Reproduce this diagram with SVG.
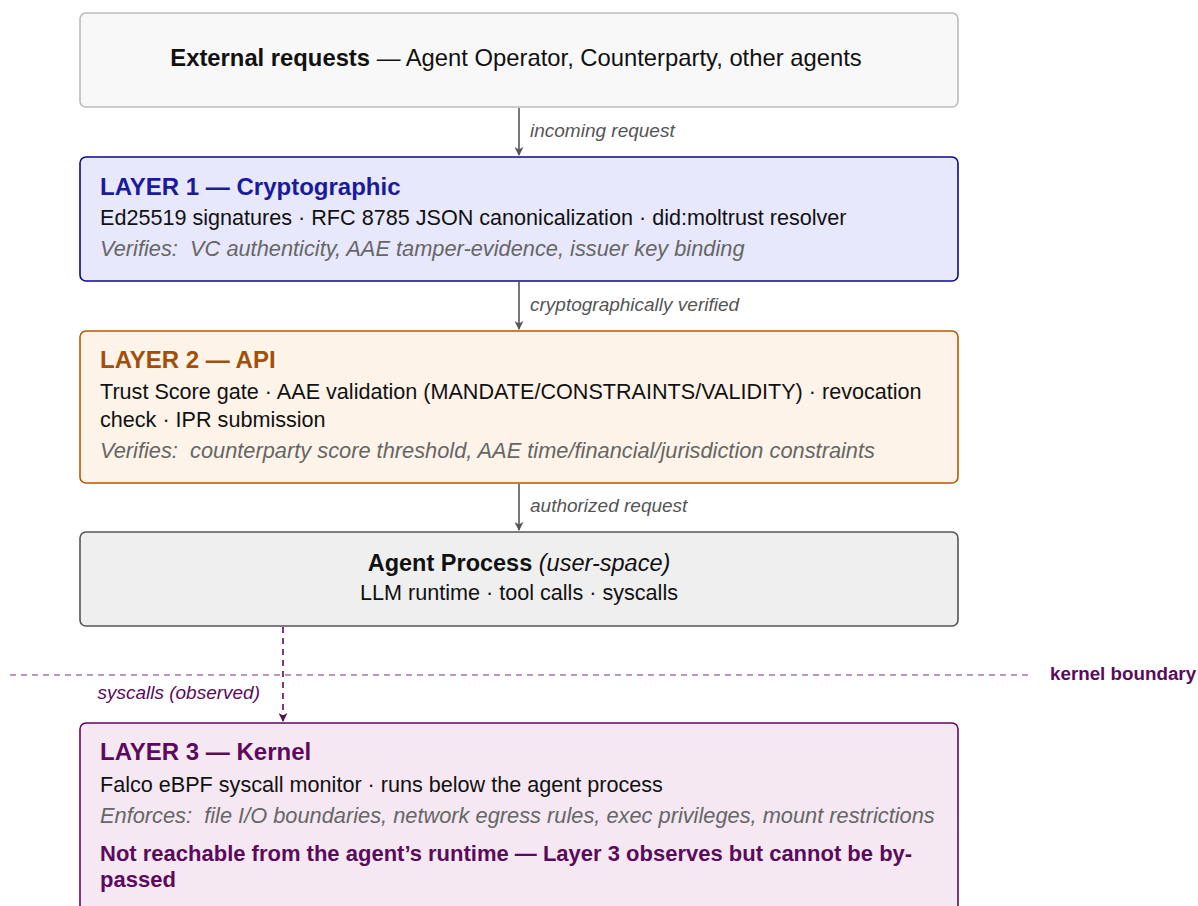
<svg xmlns="http://www.w3.org/2000/svg" width="1198" height="906" viewBox="0 0 1198 906">
<defs>
<style>
text{font-family:"Liberation Sans",Arial,sans-serif;}
.t{font-size:24px;font-weight:bold;}
.b{font-size:21.6px;fill:#111;}
.i{font-size:21.8px;font-style:italic;fill:#666;white-space:pre;}
.lbl{font-size:19px;font-style:italic;fill:#555;}
.box{stroke-width:1.6;}
</style>
<marker id="ah" viewBox="0 0 10 10" refX="9" refY="5" markerWidth="9" markerHeight="9" orient="auto" markerUnits="userSpaceOnUse"><path d="M0,0 L10,5 L0,10 L3,5 z" fill="#555"/></marker>
<marker id="ahp" viewBox="0 0 10 10" refX="9" refY="5" markerWidth="9" markerHeight="9" orient="auto" markerUnits="userSpaceOnUse"><path d="M0,0 L10,5 L0,10 L3,5 z" fill="#5c0a5c"/></marker>
</defs>
<rect width="1198" height="906" fill="#fff"/>
<g id="connectors">
<line x1="519" y1="108" x2="519" y2="155" stroke="#555" stroke-width="1.6" marker-end="url(#ah)"/>
<text class="lbl" x="530" y="137">incoming request</text>
<line x1="519" y1="282" x2="519" y2="329" stroke="#555" stroke-width="1.6" marker-end="url(#ah)"/>
<text class="lbl" x="530" y="311">cryptographically verified</text>
<line x1="519" y1="484" x2="519" y2="530" stroke="#555" stroke-width="1.6" marker-end="url(#ah)"/>
<text class="lbl" x="530" y="512">authorized request</text>
<line x1="10" y1="675" x2="1030" y2="675" stroke="#b070b0" stroke-width="1.6" stroke-dasharray="6,5"/>
<text x="1050" y="680" font-size="18.8" font-weight="bold" fill="#5c0a5c">kernel boundary</text>
<line x1="283" y1="627" x2="283" y2="721" stroke="#5c0a5c" stroke-width="1.6" stroke-dasharray="6,5" marker-end="url(#ahp)"/>
<text class="lbl" x="260" y="699" text-anchor="end" style="fill:#5c0a5c">syscalls (observed)</text>
</g>
<g id="external">
<rect class="box" x="80" y="13" width="878" height="94" rx="6" fill="#f8f8f8" stroke="#bbb"/>
<text x="516" y="66" text-anchor="middle" font-size="23.8" fill="#111"><tspan font-weight="bold">External requests</tspan> — Agent Operator, Counterparty, other agents</text>
</g>
<g id="layer1">
<rect class="box" x="80" y="157" width="878" height="124" rx="6" fill="#e8e8fc" stroke="#0a0a8c"/>
<text class="t" x="100" y="195" fill="#1a1a9c">LAYER 1 — Cryptographic</text>
<text class="b" x="100" y="225">Ed25519 signatures · RFC 8785 JSON canonicalization · did:moltrust resolver</text>
<text class="i" x="100" y="256">Verifies:  VC authenticity, AAE tamper-evidence, issuer key binding</text>
</g>
<g id="layer2">
<rect class="box" x="80" y="331" width="878" height="152" rx="6" fill="#fdf3e8" stroke="#b35a00"/>
<text class="t" x="100" y="368" fill="#a0500a">LAYER 2 — API</text>
<text class="b" x="100" y="399">Trust Score gate · AAE validation (MANDATE/CONSTRAINTS/VALIDITY) · revocation</text>
<text class="b" x="100" y="427">check · IPR submission</text>
<text class="i" x="100" y="458">Verifies:  counterparty score threshold, AAE time/financial/jurisdiction constraints</text>
</g>
<g id="agent">
<rect class="box" x="80" y="532" width="878" height="94" rx="6" fill="#efefef" stroke="#555"/>
<text x="519" y="571" text-anchor="middle" font-size="23.5" fill="#111"><tspan font-weight="bold">Agent Process</tspan> <tspan font-style="italic">(user-space)</tspan></text>
<text class="b" x="519" y="600" text-anchor="middle">LLM runtime · tool calls · syscalls</text>
</g>
<g id="layer3">
<rect class="box" x="80" y="723" width="878" height="200" rx="6" fill="#f5e8f3" stroke="#5c0a5c"/>
<text class="t" x="100" y="760" fill="#5c0a5c">LAYER 3 — Kernel</text>
<text class="b" x="100" y="792">Falco eBPF syscall monitor · runs below the agent process</text>
<text class="i" x="100" y="823">Enforces:  file I/O boundaries, network egress rules, exec privileges, mount restrictions</text>
<text x="100" y="861" font-size="22" font-weight="bold" fill="#5c0a5c">Not reachable from the agent’s runtime — Layer 3 observes but cannot be by-</text>
<text x="100" y="887" font-size="22" font-weight="bold" fill="#5c0a5c">passed</text>
</g>
</svg>
